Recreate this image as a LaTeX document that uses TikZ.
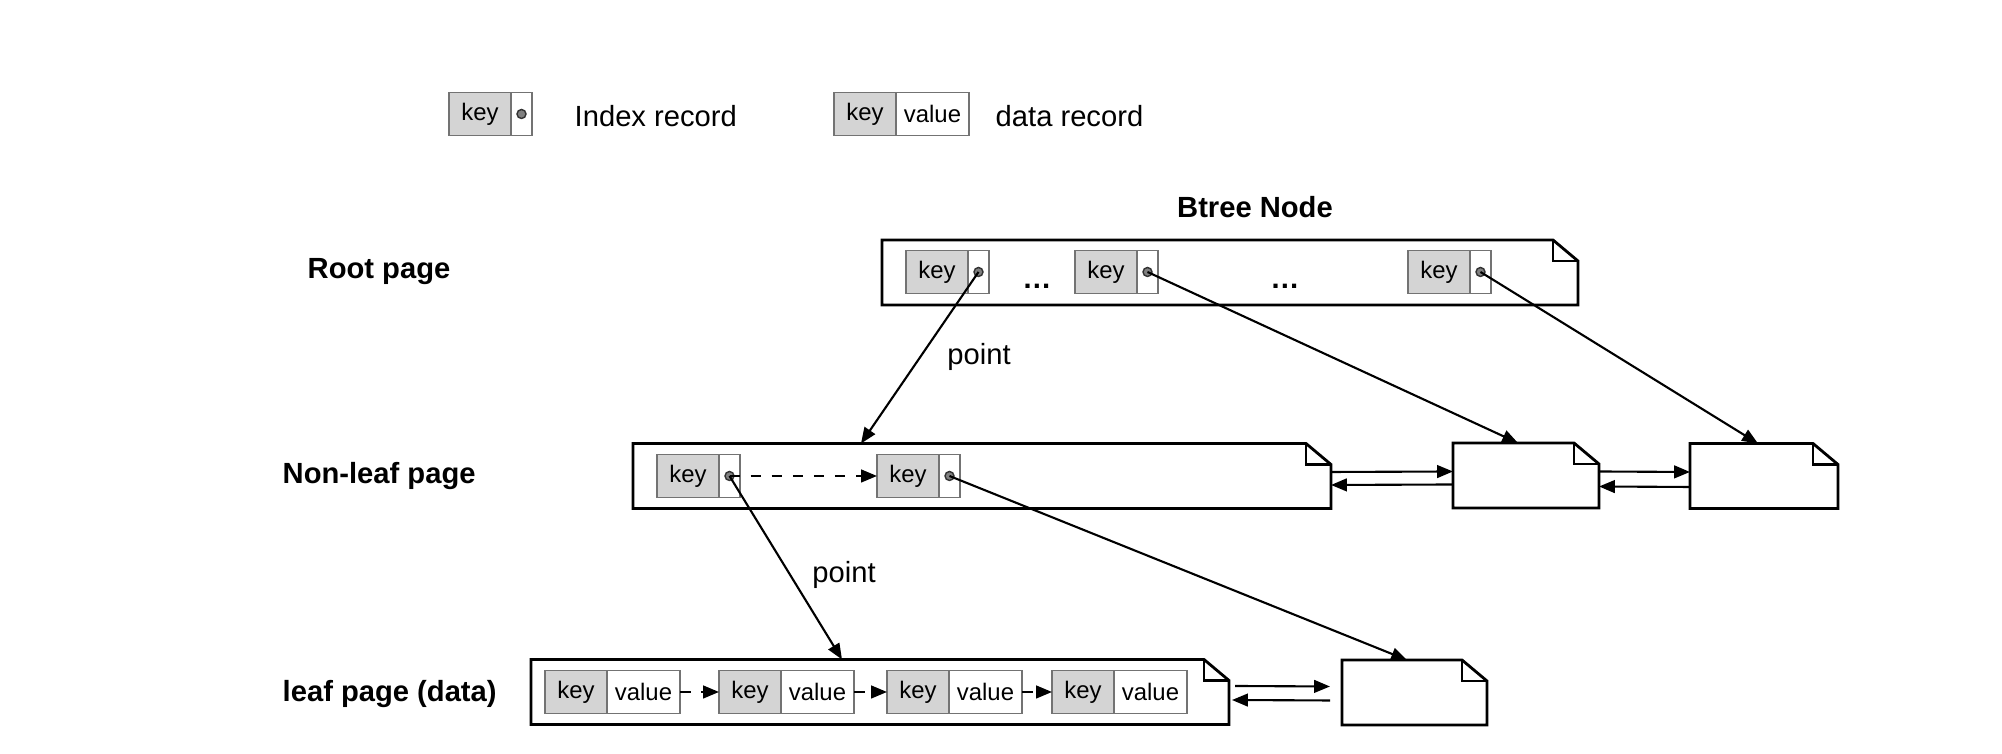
\documentclass[tikz,border=0pt]{standalone}
\usepackage{fontspec}
\setmainfont{Liberation Sans}
\usetikzlibrary{positioning,arrows.meta}

\tikzset{
  rowname/.style={font=\fontsize{8.3}{10}\selectfont\bfseries, anchor=west, inner sep=0pt},
  txt/.style={font=\fontsize{8.3}{10}\selectfont, inner sep=0pt},
  keycell/.style={draw=black!55, fill=black!17, minimum width=0.62cm, minimum height=0.43cm,
    inner sep=0pt, outer sep=0pt, font=\fontsize{6.8}{8}\selectfont},
  ptrcell/.style={keycell, fill=white, minimum width=0.21cm},
  valcell/.style={keycell, fill=white, minimum width=0.73cm},
  ptrdot/.style={circle, draw=black!80, fill=black!50, inner sep=0pt, minimum size=0.09cm},
  pagebox/.style={minimum height=0.65cm, inner sep=0pt, outer sep=0pt},
  link/.style={semithick, -{Triangle[length=4.5pt,width=3.6pt]}},
}

\begin{document}
\begin{tikzpicture}
\useasboundingbox (0,0) rectangle (20.02,7.54);

% Legend
\node[keycell] (lk) at (4.80,6.40) {key};
\node[ptrcell, right=0pt of lk] (lp) {};
\node[ptrdot] at (lp.center) {};
\node[txt, anchor=west] (lidx) at (5.74,6.38) {Index record};
\node[keycell] (dk) at (8.65,6.40) {key};
\node[valcell, right=0pt of dk] (dv) {value};
\node[txt, anchor=west] (ldat) at (9.95,6.38) {data record};

\node[rowname, anchor=center] (title) at (12.55,5.47) {Btree Node};

% Row names
\node[rowname] (nroot) at (3.07,4.82) {Root page};
\node[rowname] (ninner) at (2.82,2.78) {Non-leaf page};
\node[rowname] (nleaf) at (2.82,0.60) {leaf page (data)};

% Pages
\node[pagebox, minimum width=6.96cm] (root) at (12.30,4.815) {};
\node[pagebox, minimum width=6.98cm] (inner) at (9.82,2.78) {};
\node[pagebox, minimum width=1.46cm] (inner2) at (15.26,2.785) {};
\node[pagebox, minimum width=1.48cm] (inner3) at (17.64,2.78) {};
\node[pagebox, minimum width=6.98cm] (leaf) at (8.80,0.62) {};
\node[pagebox, minimum width=1.45cm] (leaf2) at (14.145,0.615) {};

\foreach \p in {root,inner,inner2,inner3,leaf,leaf2} {
  \draw[thick] (\p.south west) -- (\p.north west) -- ([xshift=-0.25cm]\p.north east)
    -- ([yshift=-0.21cm]\p.north east) -- (\p.south east) -- cycle;
  \draw[thick] ([xshift=-0.25cm]\p.north east) |- ([yshift=-0.21cm]\p.north east);
}

% Root page records
\foreach \i/\x in {1/9.37,2/11.06,3/14.39} {
  \node[keycell] (r\i k) at (\x,4.82) {key};
  \node[ptrcell, right=0pt of r\i k] (r\i p) {};
  \node[ptrdot] (r\i d) at (r\i p.center) {};
}
\node[txt, font=\fontsize{8.3}{10}\selectfont\bfseries] (rdots1) at (10.37,4.68) {\dots};
\node[txt, font=\fontsize{8.3}{10}\selectfont\bfseries] (rdots2) at (12.85,4.68) {\dots};

% Non-leaf page records
\foreach \i/\x in {1/6.88,2/9.08} {
  \node[keycell] (i\i k) at (\x,2.78) {key};
  \node[ptrcell, right=0pt of i\i k] (i\i p) {};
  \node[ptrdot] (i\i d) at (i\i p.center) {};
}
\draw[link, dashed] (i1d.center) -- (i2k.west);

% Leaf page records
\foreach \i/\x in {1/5.76,2/7.50,3/9.18,4/10.83} {
  \node[keycell] (l\i k) at (\x,0.62) {key};
  \node[valcell, right=0pt of l\i k] (l\i v) {value};
}
\foreach \a/\b in {1/2,2/3,3/4}
  \draw[link, dashed] (l\a v.east) -- (l\b k.west);

% Pointers down the tree
\draw[link] (r1d.center) -- ([xshift=2.28cm]inner.north west);
\draw[link] (r2d.center) -- ([xshift=0.65cm]inner2.north west);
\draw[link] (r3d.center) -- ([xshift=0.68cm]inner3.north west);
\draw[link] (i1d.center) -- ([xshift=3.11cm]leaf.north west);
\draw[link] (i2d.center) -- ([xshift=0.65cm]leaf2.north west);
\node[txt] (pt1) at (9.79,3.97) {point};
\node[txt] (pt2) at (8.44,1.79) {point};

% Sibling links
\draw[link] ([yshift=0.04cm]inner.east) -- ([yshift=0.04cm]inner2.west);
\draw[link] ([yshift=-0.09cm]inner2.west) -- ([yshift=-0.09cm]inner.east);
\draw[link] ([yshift=0.04cm]inner2.east) -- ([yshift=0.04cm]inner3.west);
\draw[link] ([yshift=-0.11cm]inner3.west) -- ([yshift=-0.11cm]inner2.east);
\draw[link] ([shift={(0.06,0.06)}]leaf.east) -- ([shift={(-0.12,0.06)}]leaf2.west);
\draw[link] ([shift={(-0.12,-0.08)}]leaf2.west) -- ([shift={(0.03,-0.08)}]leaf.east);

\end{tikzpicture}
\end{document}
